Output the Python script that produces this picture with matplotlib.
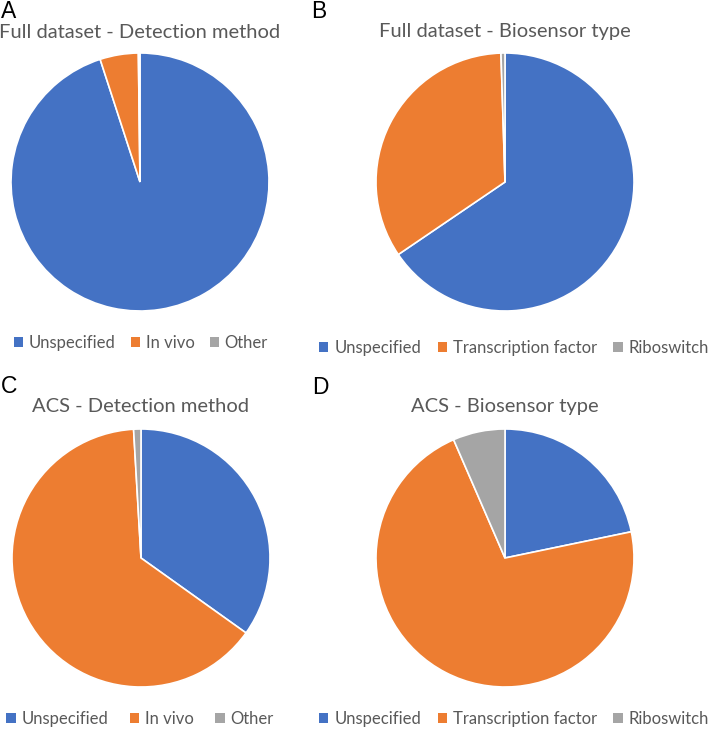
import matplotlib
matplotlib.use("Agg")
import matplotlib.pyplot as plt
from matplotlib.patches import Patch
from matplotlib import font_manager

W, H = 714, 731

detection_labels = ["Unspecified", "In vivo", "Other"]
biosensor_labels = ["Unspecified", "Transcription factor", "Riboswitch"]

full_detection = [95.0, 4.8, 0.2]
full_biosensor = [65.5, 34.0, 0.5]
acs_detection = [38, 70, 1]
acs_biosensor = [10, 33, 3]

colors = ["#4472C4", "#ED7D31", "#A5A5A5"]
TXT = "#595959"
FONT = "Lato"

names = {f.name for f in font_manager.fontManager.ttflist}
LETTER_FONT = "Liberation Sans Narrow" if "Liberation Sans Narrow" in names else "Liberation Sans"

fig = plt.figure(figsize=(W / 100, H / 100), dpi=100)


def px_axes(cx, cy, r):
    return fig.add_axes([(cx - r) / W, 1 - (cy + r) / H, 2 * r / W, 2 * r / H])


def draw_pie(cx, cy, r, values, labels, title, tx, ty, letter, lx, ly, legx, legy, colspacing):
    ax = px_axes(cx, cy, r)
    ax.pie(values, colors=colors, startangle=90, counterclock=False,
           wedgeprops=dict(edgecolor="white", linewidth=1.2))
    ax.set_xlim(-1, 1)
    ax.set_ylim(-1, 1)
    ax.set_aspect("equal")
    ax.axis("off")
    fig.text(tx / W, 1 - ty / H, title, ha="center", va="center",
             fontsize=14.5, color=TXT, family=FONT)
    fig.text(lx / W, 1 - ly / H, letter, ha="left", va="baseline",
             fontsize=16.5, color="black", family=LETTER_FONT)
    handles = [Patch(facecolor=c, edgecolor="none") for c in colors]
    fig.legend(handles, labels, loc="center", bbox_to_anchor=(legx / W, 1 - legy / H),
               ncol=3, frameon=False, labelcolor=TXT,
               prop=dict(family=FONT, size=12),
               handlelength=0.55, handleheight=0.55, handletextpad=0.35,
               columnspacing=colspacing, borderpad=0, borderaxespad=0)


draw_pie(140, 182, 129, full_detection, detection_labels,
         "Full dataset - Detection method", 140, 32, "A", 1, 18, 141, 343, 0.9)
draw_pie(505, 182, 129, full_biosensor, biosensor_labels,
         "Full dataset - Biosensor type", 505, 32, "B", 311, 18, 514, 348, 1.0)
draw_pie(141, 558, 129, acs_detection, detection_labels,
         "ACS - Detection method", 141, 407, "C", 1, 393, 140, 719, 1.3)
draw_pie(505, 558, 129, acs_biosensor, biosensor_labels,
         "ACS - Biosensor type", 505, 407, "D", 312, 394, 514, 719, 1.0)

fig.savefig("out.png", dpi=100, facecolor="white")
